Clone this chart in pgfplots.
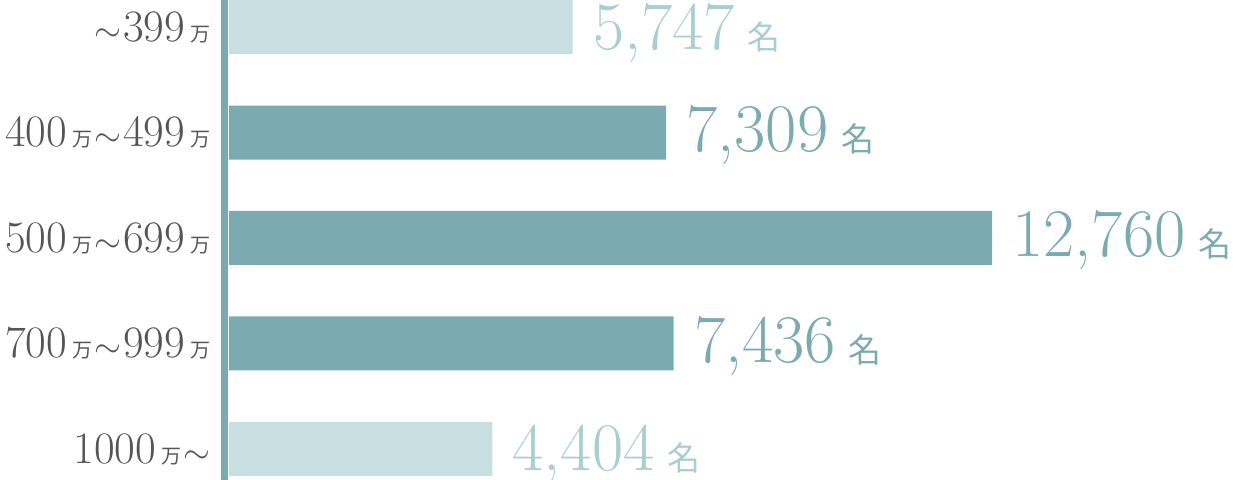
\documentclass[border=0pt]{standalone}
\usepackage{fontspec}
\usepackage{pgfplots}
\pgfplotsset{compat=1.18}
\newfontfamily\cjk{Noto Sans CJK JP}
\definecolor{lightbar}{HTML}{C8DFE1}
\definecolor{darkbar}{HTML}{7BABB0}
\definecolor{lighttext}{HTML}{A9CDD0}
\definecolor{graytext}{HTML}{555555}
\newcommand\man{\hspace{2.5pt}{\cjk\fontsize{10}{10}\selectfont 万}}
\newcommand\til{\hspace{1pt}{\fontsize{18}{18}\selectfont$\sim$}\hspace{1pt}}
\newcommand\mei{\hspace{6.5pt}{\cjk\fontsize{16.5}{16.5}\selectfont 名}}
\begin{document}
\begin{tikzpicture}
\path[use as bounding box] (-114.5pt,0) rectangle (504.5pt,240pt);
\begin{axis}[
  at={(0,0)}, anchor=south west,
  scale only axis,
  width=381.5pt, height=240pt,
  xbar, bar width=27pt, bar shift=0pt,
  y dir=reverse,
  xmin=0, xmax=12760,
  ymin=-0.256, ymax=4.294,
  enlargelimits=false,
  clip=false,
  axis line style={draw=none},
  tick style={draw=none},
  xtick=\empty,
  ytick={0,1,2,3,4},
  yticklabels={\til399\man, 400\man\til499\man, 500\man\til699\man, 700\man\til999\man, 1000\man\til},
  yticklabel style={font=\fontsize{22.5}{22.5}\selectfont, text=graytext, inner sep=0pt, xshift=-5pt, anchor=east},
  point meta=x,
  nodes near coords={\pgfmathprintnumber[fixed, precision=0, 1000 sep={,}, assume math mode=true]{\pgfplotspointmeta}\mei},
  every node near coord/.append style={font=\fontsize{34}{34}\selectfont, inner sep=0pt, anchor=base west, xshift=10pt, yshift=-9.5pt},
]
\addplot[fill=lightbar, draw=none, nodes near coords style={text=lighttext, yshift=-1.5pt}] coordinates {(5747,0) (4404,4)};
\addplot[fill=darkbar, draw=none, nodes near coords style={text=darkbar}] coordinates {(7309,1) (12760,2) (7436,3)};
\draw[line width=3.5pt, darkbar] ([xshift=-2.25pt]rel axis cs:0,0) -- ([xshift=-2.25pt]rel axis cs:0,1);
\end{axis}
\end{tikzpicture}
\end{document}
